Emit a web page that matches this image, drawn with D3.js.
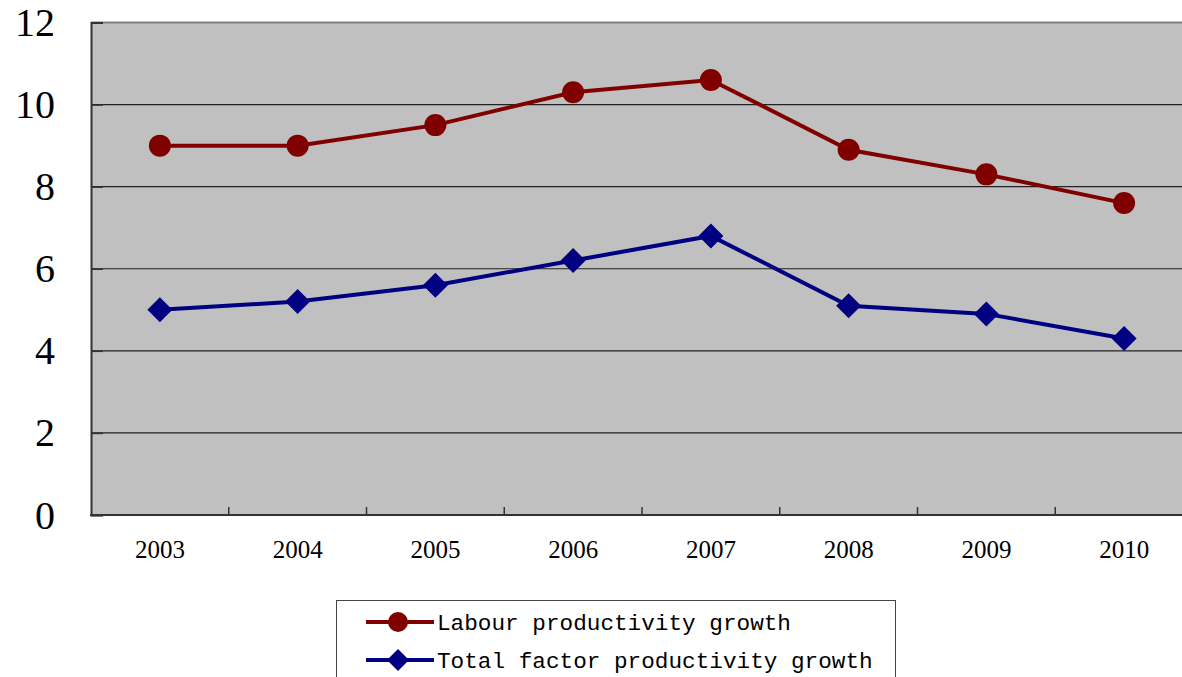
<!DOCTYPE html>
<html><head><meta charset="utf-8">
<script src="https://cdn.jsdelivr.net/npm/d3@7"></script>
<style>body{margin:0;background:#fff;overflow:hidden}</style>
</head><body>
<svg id="c" width="1182" height="677"></svg>
<script>
const years = ["2003","2004","2005","2006","2007","2008","2009","2010"];
const labour = [9.0, 9.0, 9.5, 10.3, 10.6, 8.9, 8.3, 7.6];
const tfp = [5.0, 5.2, 5.6, 6.2, 6.8, 5.1, 4.9, 4.3];
const yTicks = [0, 2, 4, 6, 8, 10, 12];
const seriesNames = ["Labour productivity growth", "Total factor productivity growth"];

const svg = d3.select("#c");
const L = 91, R = 1193, T = 22.5, B = 515;
const x = d3.scaleBand().domain(years).range([L, R]).padding(0);
const y = d3.scaleLinear().domain([0, 12]).range([B, T]);

svg.append("rect").attr("x", L).attr("y", T).attr("width", R - L).attr("height", B - T).attr("fill", "#c0c0c0");

// gridlines
svg.append("g").selectAll("line").data(yTicks.filter(d => d > 0 && d < 12)).join("line")
  .attr("x1", L).attr("x2", R).attr("y1", d => y(d)).attr("y2", d => y(d))
  .attr("stroke", "#222").attr("stroke-width", 1.2);
// top border
svg.append("line").attr("x1", L).attr("x2", R).attr("y1", T).attr("y2", T).attr("stroke", "#808080").attr("stroke-width", 2);

// y axis
const ya = svg.append("g").attr("transform", `translate(${L},0)`)
  .call(d3.axisRight(y).tickValues(yTicks).tickSize(12).tickFormat(""));
ya.select(".domain").attr("stroke", "#333").attr("stroke-width", 2);
ya.selectAll(".tick line").attr("stroke", "#333").attr("stroke-width", 1.5);
svg.append("g").selectAll("text").data(yTicks).join("text")
  .attr("x", 55).attr("y", d => y(d) + 13.5).attr("text-anchor", "end")
  .attr("font-family", "Liberation Serif, serif").attr("font-size", 40).attr("fill", "#000")
  .text(d => d);

// x axis
const boundaries = years.slice(1).map(d => x(d));
svg.append("g").selectAll("line").data(boundaries).join("line")
  .attr("x1", d => d).attr("x2", d => d).attr("y1", B).attr("y2", B - 8)
  .attr("stroke", "#333").attr("stroke-width", 1.5);
svg.append("line").attr("x1", L - 1).attr("x2", R).attr("y1", B).attr("y2", B).attr("stroke", "#333").attr("stroke-width", 2);
svg.append("g").selectAll("text").data(years).join("text")
  .attr("x", d => x(d) + x.bandwidth() / 2).attr("y", 558).attr("text-anchor", "middle")
  .attr("font-family", "Liberation Serif, serif").attr("font-size", 25).attr("fill", "#000")
  .text(d => d);

const cx = d => x(d) + x.bandwidth() / 2;
const line = d3.line().x(d => cx(d[0])).y(d => y(d[1]));
const red = "#800000", blue = "#000080";
const diamond = (px, py, s) => `M${px},${py - s}L${px + s},${py}L${px},${py + s}L${px - s},${py}Z`;

const lab = years.map((d, i) => [d, labour[i]]);
const tf = years.map((d, i) => [d, tfp[i]]);
svg.append("path").datum(lab).attr("d", line).attr("fill", "none").attr("stroke", red).attr("stroke-width", 4);
svg.append("g").selectAll("circle").data(lab).join("circle")
  .attr("cx", d => cx(d[0])).attr("cy", d => y(d[1])).attr("r", 11).attr("fill", red);
svg.append("path").datum(tf).attr("d", line).attr("fill", "none").attr("stroke", blue).attr("stroke-width", 4);
svg.append("g").selectAll("path").data(tf).join("path")
  .attr("d", d => diamond(cx(d[0]), y(d[1]), 12.5)).attr("fill", blue);

// legend
svg.append("rect").attr("x", 336.5).attr("y", 600.5).attr("width", 559).attr("height", 100)
  .attr("fill", "#fff").attr("stroke", "#444").attr("stroke-width", 1);
const lg = [[seriesNames[0], red, "c", 622], [seriesNames[1], blue, "d", 660]];
lg.forEach(([name, col, m, ly]) => {
  svg.append("line").attr("x1", 366).attr("x2", 434).attr("y1", ly).attr("y2", ly).attr("stroke", col).attr("stroke-width", 4);
  if (m === "c") svg.append("circle").attr("cx", 398).attr("cy", ly).attr("r", 10).attr("fill", col);
  else svg.append("path").attr("d", diamond(398, ly, 11)).attr("fill", col);
  svg.append("text").attr("x", 437).attr("y", ly + 8).attr("font-family", "Liberation Mono, monospace")
    .attr("font-size", 22.7).attr("fill", "#000").text(name);
});
</script>
</body></html>
